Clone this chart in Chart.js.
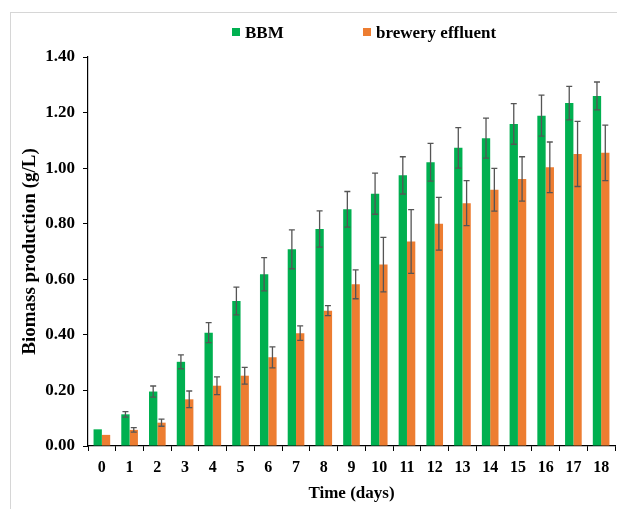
<!DOCTYPE html>
<html>
<head>
<meta charset="utf-8">
<script src="https://cdn.jsdelivr.net/npm/chart.js@4/dist/chart.umd.min.js"></script>
<style>
    body { margin: 0; background: #fff; }
    #wrap { position: relative; width: 617px; height: 509px; overflow: hidden; }
    #frame { position: absolute; left: 10px; top: 12px; width: 700px; height: 700px; border: 1px solid #d6d6d6; }
    #chart { position: absolute; left: 0; top: 0; }
    .legend { position: absolute; top: 23px; font: bold 17px 'Liberation Serif', 'Times New Roman', serif; color: #000; white-space: nowrap; }
    .legend span.box { display: inline-block; width: 8px; height: 8px; margin-right: 5px; vertical-align: 2px; }
</style>
</head>
<body>
<div id="wrap">
    <div id="frame"></div>
    <canvas id="chart" width="617" height="509"></canvas>
</div>
<script>
// 데이터
const days = ['0', '1', '2', '3', '4', '5', '6', '7', '8', '9', '10', '11', '12', '13', '14', '15', '16', '17', '18'];
const bbm = [0.06, 0.114, 0.196, 0.303, 0.408, 0.522, 0.618, 0.708, 0.781, 0.852, 0.908, 0.974, 1.021, 1.073, 1.108, 1.159, 1.189, 1.234, 1.26];
const bbmErr = [0.0, 0.01, 0.02, 0.025, 0.036, 0.05, 0.06, 0.07, 0.065, 0.064, 0.074, 0.067, 0.068, 0.073, 0.072, 0.073, 0.074, 0.06, 0.05];
const brewery = [0.04, 0.058, 0.084, 0.168, 0.217, 0.253, 0.319, 0.406, 0.487, 0.582, 0.653, 0.736, 0.80, 0.874, 0.922, 0.961, 1.003, 1.051, 1.055];
const breweryErr = [0.0, 0.008, 0.013, 0.03, 0.032, 0.03, 0.038, 0.026, 0.018, 0.052, 0.098, 0.115, 0.095, 0.081, 0.077, 0.08, 0.091, 0.117, 0.10];
const yTicks = [0, 0.2, 0.4, 0.6, 0.8, 1.0, 1.2, 1.4];

const serif = "'Liberation Serif', 'Times New Roman', serif";

// 에러바 플러그인
const errorBars = {
    id: 'errorBars',
    afterDatasetsDraw(chart) {
        const ctx = chart.ctx;
        const y = chart.scales.y;
        ctx.save();
        ctx.strokeStyle = '#555';
        ctx.lineWidth = 1.3;
        chart.data.datasets.forEach((ds, i) => {
            const meta = chart.getDatasetMeta(i);
            meta.data.forEach((bar, j) => {
                const e = ds.errors[j];
                if (!e) return;
                const top = y.getPixelForValue(ds.data[j] + e);
                const bot = y.getPixelForValue(ds.data[j] - e);
                const x = bar.x;
                ctx.beginPath();
                ctx.moveTo(x, top); ctx.lineTo(x, bot);
                ctx.moveTo(x - 3, top); ctx.lineTo(x + 3, top);
                ctx.moveTo(x - 3, bot); ctx.lineTo(x + 3, bot);
                ctx.stroke();
            });
        });
        ctx.restore();
    }
};

const chart = new Chart(document.getElementById('chart'), {
    type: 'bar',
    data: {
        labels: days,
        datasets: [
            { label: 'BBM', data: bbm, errors: bbmErr, backgroundColor: '#00B050' },
            { label: 'brewery effluent', data: brewery, errors: breweryErr, backgroundColor: '#ED7D31' }
        ]
    },
    options: {
        responsive: false,
        animation: false,
        layout: { padding: { left: 13, top: 57, right: 2, bottom: 0 } },
        datasets: { bar: { categoryPercentage: 0.6, barPercentage: 1.0 } },
        plugins: { legend: { display: false }, tooltip: { enabled: false } },
        scales: {
            x: {
                grid: { display: true, drawOnChartArea: false, offset: true, color: '#000', tickLength: 5 },
                border: { color: '#000', width: 1.2 },
                ticks: { color: '#000', font: { family: serif, size: 16, weight: 'bold' }, padding: 7, maxRotation: 0 },
                title: { display: true, text: 'Time (days)', color: '#000', font: { family: serif, size: 17, weight: 'bold' }, padding: { top: 0, bottom: 5 } },
                afterFit(s) { s.height = 63; }
            },
            y: {
                min: 0,
                max: 1.4,
                afterBuildTicks(s) { s.ticks = yTicks.map(v => ({ value: v })); },
                grid: { display: true, drawOnChartArea: false, color: '#000', tickLength: 5 },
                border: { color: '#000', width: 1.2 },
                ticks: { color: '#000', font: { family: serif, size: 17, weight: 'bold' }, padding: 8, callback: v => v.toFixed(2) },
                title: { display: true, text: 'Biomass production (g/L)', color: '#000', font: { family: serif, size: 19, weight: 'bold' }, padding: { top: 6, bottom: 0 } },
                afterFit(s) { s.width = 75; }
            }
        }
    },
    plugins: [errorBars]
});

// 범례
const legendPos = [232, 363];
chart.data.datasets.forEach((ds, i) => {
    const el = document.createElement('div');
    el.className = 'legend';
    el.style.left = legendPos[i] + 'px';
    el.innerHTML = `<span class="box" style="background:${ds.backgroundColor}"></span>${ds.label}`;
    document.getElementById('wrap').appendChild(el);
});
</script>
</body>
</html>
